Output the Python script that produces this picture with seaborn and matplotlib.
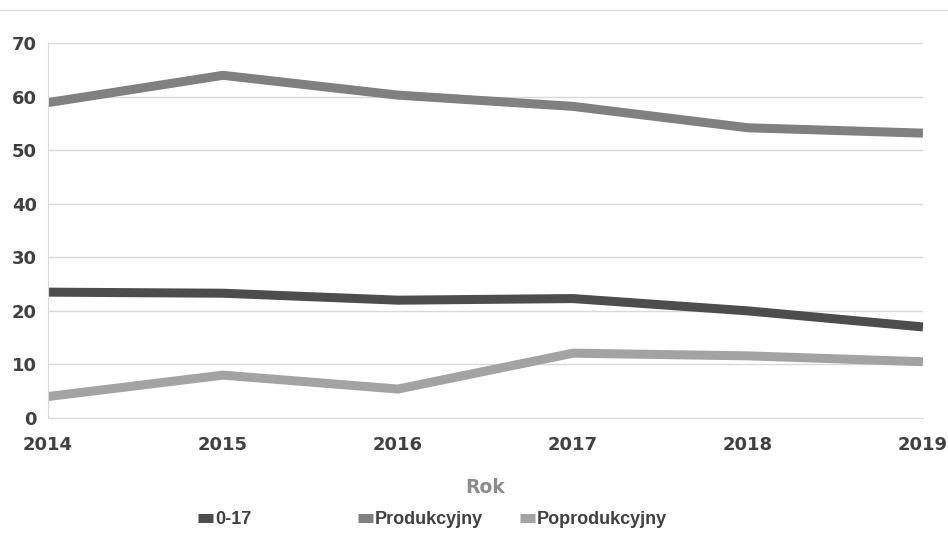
import pandas as pd
import matplotlib.pyplot as plt
import seaborn as sns

years = [2014, 2015, 2016, 2017, 2018, 2019]
group_0_17 = [23.5, 23.3, 22.0, 22.3, 20.0, 17.0]
produkcyjny = [58.9, 64.0, 60.3, 58.2, 54.2, 53.2]
poprodukcyjny = [4.0, 8.0, 5.4, 12.1, 11.6, 10.5]
series_names = ["0-17", "Produkcyjny", "Poprodukcyjny"]
colors = ["#4d4d4d", "#808080", "#a3a3a3"]

df = pd.DataFrame({
    "Rok": years * 3,
    "Wartosc": group_0_17 + produkcyjny + poprodukcyjny,
    "Grupa": [series_names[0]] * 6 + [series_names[1]] * 6 + [series_names[2]] * 6,
})

sns.set_style("white")
plt.rcParams['font.family'] = ['Liberation Sans', 'DejaVu Sans']

fig = plt.figure(figsize=(9.48, 5.4), dpi=100)
ax = fig.add_axes([0.0506, 0.226, 0.923, 0.694])

sns.lineplot(data=df, x="Rok", y="Wartosc", hue="Grupa", palette=colors,
             linewidth=6.5, ax=ax, solid_capstyle="butt", solid_joinstyle="round")

ax.set_xlim(2014, 2019)
ax.set_ylim(0, 70)
ax.set_yticks(range(0, 71, 10))
ax.set_xticks(years)
ax.grid(axis="y", color="#d9d9d9", linewidth=1)
for side in ["top", "right"]:
    ax.spines[side].set_visible(False)
ax.spines["left"].set_color("#d9d9d9")
ax.spines["bottom"].set_color("#d9d9d9")
ax.tick_params(axis="both", length=0, labelcolor="#404040")
ax.tick_params(axis="y", pad=8)
ax.tick_params(axis="x", pad=13)
for lab in ax.get_xticklabels() + ax.get_yticklabels():
    lab.set_fontweight("bold")
    lab.set_fontfamily("DejaVu Sans")
    lab.set_fontsize(13)

ax.set_ylabel("")
ax.set_xlabel("Rok", fontsize=13.5, fontweight="bold", color="#8c8c8c",
              labelpad=17, fontfamily="DejaVu Sans")

# Excel-style legend: one slot per series at fixed positions
handles, labels = ax.get_legend_handles_labels()
ax.get_legend().remove()
legend_x = [198 / 948, 358 / 948, 520 / 948]
for h, l, x in zip(handles, labels, legend_x):
    leg = fig.legend([h], [l], loc="center left", bbox_to_anchor=(x, 0.038),
                     frameon=False, handlelength=0.85, handletextpad=0.1,
                     borderpad=0, borderaxespad=0,
                     prop={"weight": "bold", "size": 13})
    for t in leg.get_texts():
        t.set_color("#404040")

fig.add_artist(plt.Line2D([0.0, 1.0], [0.981, 0.981], color="#dddddd", linewidth=1))

fig.savefig("out.png", dpi=100)
